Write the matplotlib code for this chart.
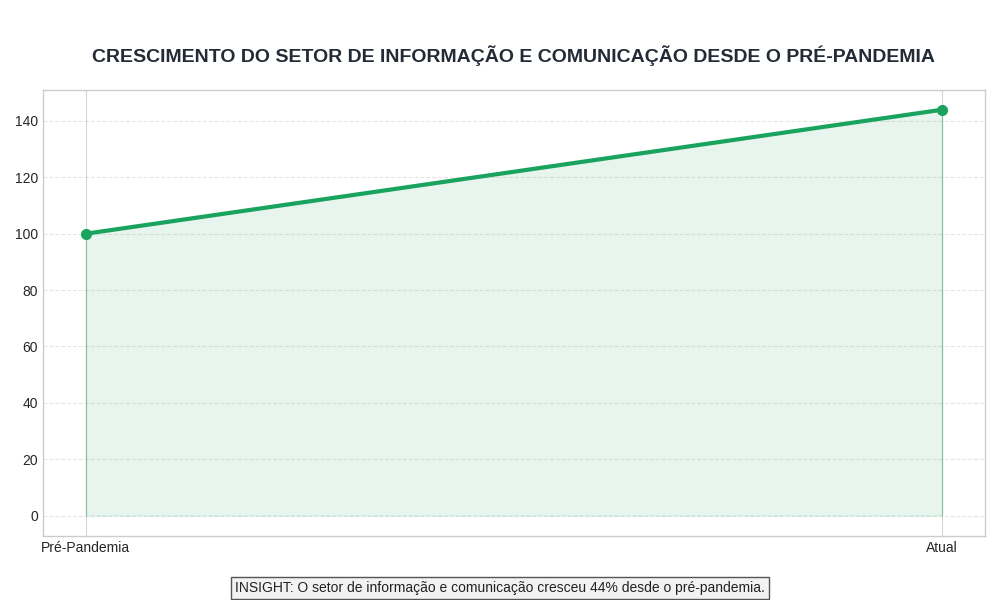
import matplotlib

matplotlib.use("Agg")
import matplotlib.pyplot as plt  # noqa: E402

periods = ["Pré-Pandemia", "Atual"]
values = [100, 144]

plt.style.use("seaborn-v0_8-whitegrid")
plt.rcParams["font.family"] = ["Liberation Sans", "DejaVu Sans"]

fig = plt.figure(figsize=(10, 6), dpi=100)
ax = fig.add_axes([0.043, 0.107, 0.942, 0.743])

green = "#1aa35f"
x = list(range(len(periods)))
ax.plot(x, values, color=green, linewidth=3, marker="o", markersize=7)
ax.fill_between(x, values, 0, color=green, alpha=0.1)
ax.vlines(x, 0, values, color=green, alpha=0.3, linewidth=0.8)

ax.set_xticks(x)
ax.set_xticklabels(periods, fontsize=10)
ax.tick_params(axis="y", labelsize=10)
ax.set_xlim(-0.05, 1.05)
ax.set_ylim(-7.2, 151)
ax.set_yticks(range(0, 141, 20))
ax.grid(axis="y", linestyle="--", alpha=0.5)
ax.grid(axis="x", linestyle="-", alpha=0.8)
for s in ax.spines.values():
    s.set_visible(True)
    s.set_color("#cccccc")

fig.text(0.514, 0.908, "CRESCIMENTO DO SETOR DE INFORMAÇÃO E COMUNICAÇÃO DESDE O PRÉ-PANDEMIA",
         ha="center", va="center", fontsize=14, fontweight="bold", color="#222b36")
fig.text(0.5, 0.02, "INSIGHT: O setor de informação e comunicação cresceu 44% desde o pré-pandemia.",
         ha="center", va="center", fontsize=10, color="#222222",
         bbox=dict(facecolor="#f2f2f2", edgecolor="#555555", boxstyle="square,pad=0.3"))

fig.savefig("out.png", dpi=100)
